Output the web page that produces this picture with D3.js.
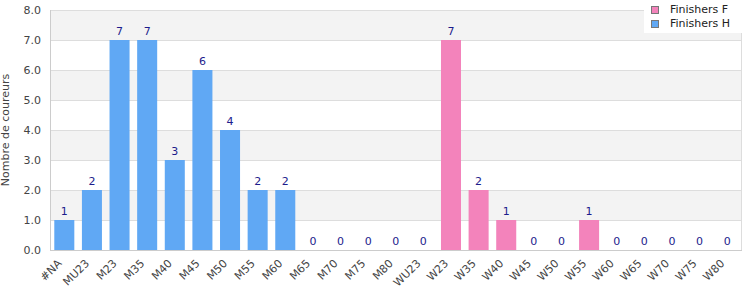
<!DOCTYPE html>
<html><head><meta charset="utf-8">
<script src="https://cdn.jsdelivr.net/npm/d3@7"></script>
<style>body{margin:0;background:#fff}svg{display:block;font-family:"DejaVu Sans",sans-serif}</style>
</head><body><svg id="c" width="750" height="300"></svg>
<script>
const categories = ["#NA","MU23","M23","M35","M40","M45","M50","M55","M60","M65","M70","M75","M80","WU23","W23","W35","W40","W45","W50","W55","W60","W65","W70","W75","W80"];
const finishersH = [1,2,7,7,3,6,4,2,2,0,0,0,0,0,0,0,0,0,0,0,0,0,0,0,0];
const finishersF = [0,0,0,0,0,0,0,0,0,0,0,0,0,0,7,2,1,0,0,1,0,0,0,0,0];
const yTicks = [0,1,2,3,4,5,6,7,8];
const seriesNames = ["Finishers F","Finishers H"];
const colors = {"Finishers F":"#f383bb","Finishers H":"#60a8f4"};

const svg = d3.select("#c");
const m = {l:50.5, r:741, t:10, b:250};
const x = d3.scaleBand().domain(categories).range([m.l, m.r]).paddingInner(0.275).paddingOuter(0.1375);
const y = d3.scaleLinear().domain([0,8]).range([m.b, m.t]);

const g = svg.append("g");
for (let i=0;i<yTicks.length-1;i++){
  g.append("rect").attr("x",m.l).attr("width",m.r-m.l)
   .attr("y",y(yTicks[i+1])).attr("height",y(yTicks[i])-y(yTicks[i+1]))
   .attr("fill", i%2===1 ? "#f3f3f3" : "#ffffff");
}
g.selectAll("line.grid").data(yTicks).join("line")
 .attr("x1",m.l).attr("x2",m.r).attr("y1",d=>y(d)+0.5).attr("y2",d=>y(d)+0.5)
 .attr("stroke","#dddddd");
g.append("line").attr("x1",m.r+0.5).attr("x2",m.r+0.5).attr("y1",m.t).attr("y2",m.b).attr("stroke","#dddddd");
g.append("line").attr("x1",m.l).attr("x2",m.l).attr("y1",m.t).attr("y2",m.b+1).attr("stroke","#cccccc");
g.append("line").attr("x1",m.l).attr("x2",m.r+1).attr("y1",m.b+0.5).attr("y2",m.b+0.5).attr("stroke","#cccccc");

const data = categories.map((c,i)=>({c, h:finishersH[i], f:finishersF[i]}));
svg.append("g").selectAll("rect.h").data(data.filter(d=>d.h>0)).join("rect")
  .attr("x",d=>x(d.c)).attr("width",x.bandwidth()).attr("y",d=>y(d.h)).attr("height",d=>y(0)-y(d.h))
  .attr("fill",colors["Finishers H"]);
svg.append("g").selectAll("rect.f").data(data.filter(d=>d.f>0)).join("rect")
  .attr("x",d=>x(d.c)).attr("width",x.bandwidth()).attr("y",d=>y(d.f)).attr("height",d=>y(0)-y(d.f))
  .attr("fill",colors["Finishers F"]);

svg.append("g").selectAll("text").data(data).join("text")
  .attr("x",d=>x(d.c)+x.bandwidth()/2).attr("y",d=>y(d.h+d.f)-5)
  .attr("text-anchor","middle").attr("font-size",11).attr("fill","#1c1c8c")
  .text(d=>d.h+d.f);

svg.append("g").selectAll("text").data(yTicks).join("text")
  .attr("x",41).attr("y",d=>y(d)+4).attr("text-anchor","end").attr("font-size",11).attr("fill","#444")
  .text(d=>d.toFixed(1));
svg.append("text").attr("transform",`translate(9,${(m.t+m.b)/2}) rotate(-90)`)
  .attr("text-anchor","middle").attr("font-size",11).attr("fill","#444").text("Nombre de coureurs");

svg.append("g").selectAll("text").data(categories).join("text")
  .attr("transform",d=>`translate(${x(d)+x.bandwidth()/2-2},${m.b+14}) rotate(-45)`)
  .attr("text-anchor","end").attr("font-size",11).attr("fill","#444").text(d=>d);

const lg = svg.append("g");
lg.append("rect").attr("x",644).attr("y",0).attr("width",102).attr("height",33).attr("fill","#fff");
seriesNames.forEach((s,i)=>{
  lg.append("rect").attr("x",651.5).attr("y",6.5+i*14).attr("width",7).attr("height",7)
    .attr("fill",colors[s]).attr("stroke","#777");
  lg.append("text").attr("x",670).attr("y",13+i*14).attr("font-size",11).attr("fill","#222").text(s);
});
</script></body></html>
